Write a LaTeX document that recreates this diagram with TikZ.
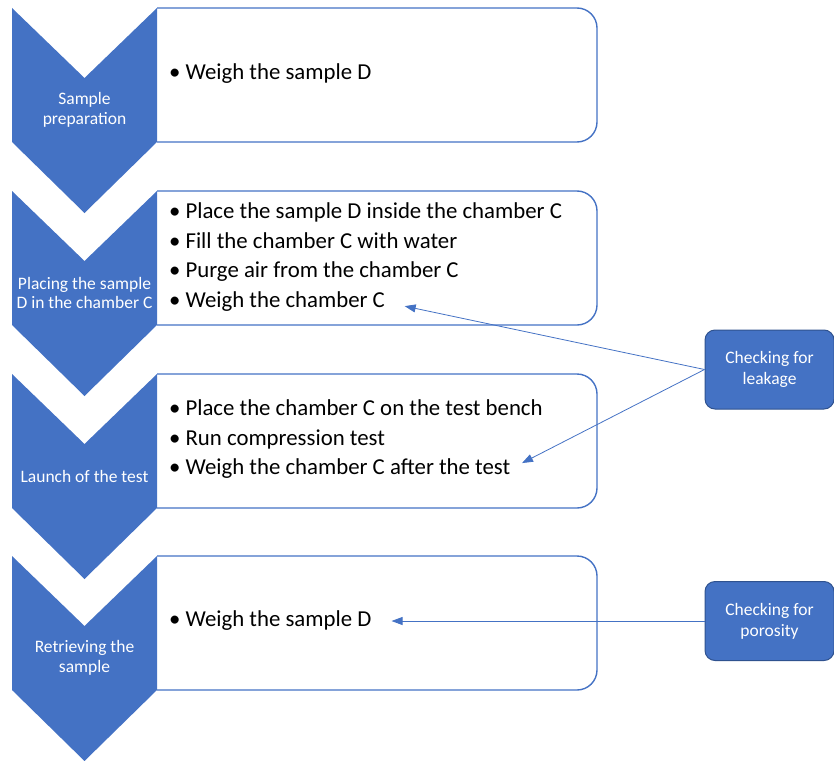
\documentclass[tikz,border=0pt]{standalone}
\usepackage{fontspec}
\setmainfont{Carlito}
\usetikzlibrary{arrows.meta}
\definecolor{chevblue}{HTML}{4472C4}
\definecolor{edgeblue}{HTML}{2F528F}

\begin{document}
\begin{tikzpicture}[x=1pt, y=-1pt,
  chevron/.style={fill=chevblue},
  phase/.style={text=white, font=\fontsize{17.5}{19.5}\selectfont, align=center},
  panel/.style={draw=chevblue, line width=1.4pt, rounded corners=20pt},
  item/.style={anchor=west, inner sep=0pt, text height=16pt, text depth=5pt, font=\fontsize{22.8}{26}\selectfont},
  check/.style={fill=chevblue, draw=edgeblue, line width=1pt, rounded corners=10pt, text=white, font=\fontsize{17.5}{21}\selectfont, align=center, minimum width=129pt, minimum height=79pt},
  link/.style={draw=chevblue, line width=0.8pt, -{Triangle[length=11pt,width=8pt]}}
]
\useasboundingbox (0,0) rectangle (834,760);

\draw[panel] (157,8) -- (597,8) -- (597,142) -- (157,142);
\draw[panel] (157,191) -- (597,191) -- (597,325) -- (157,325);
\draw[panel] (157,374) -- (597,374) -- (597,508) -- (157,508);
\draw[panel] (157,556) -- (597,556) -- (597,690) -- (157,690);

\fill[chevron] (12,8) -- (84.5,78) -- (157,8) -- (157,142) -- (84.5,213) -- (12,142) -- cycle;
\fill[chevron] (12,191) -- (84.5,261) -- (157,191) -- (157,325) -- (84.5,396) -- (12,325) -- cycle;
\fill[chevron] (12,374) -- (84.5,444) -- (157,374) -- (157,508) -- (84.5,579) -- (12,508) -- cycle;
\fill[chevron] (12,556) -- (84.5,626) -- (157,556) -- (157,690) -- (84.5,761) -- (12,690) -- cycle;

\node [phase] (p1) at (84.5,110) {Sample\\preparation};
\node [phase] (p2) at (84.5,293) {Placing the sample\\D in the chamber C};
\node [phase] (p3) at (84.5,476) {Launch of the test};
\node [phase] (p4) at (84.5,658) {Retrieving the\\sample};

\node [item] (b1) at (169,74) {\textbullet\hspace{5pt}Weigh the sample D};
\node [item] (b2a) at (169,213) {\textbullet\hspace{5pt}Place the sample D inside the chamber C};
\node [item] (b2b) at (169,243) {\textbullet\hspace{5pt}Fill the chamber C with water};
\node [item] (b2c) at (169,272) {\textbullet\hspace{5pt}Purge air from the chamber C};
\node [item] (b2d) at (169,302) {\textbullet\hspace{5pt}Weigh the chamber C};
\node [item] (b3a) at (169,410) {\textbullet\hspace{5pt}Place the chamber C on the test bench};
\node [item] (b3b) at (169,440) {\textbullet\hspace{5pt}Run compression test};
\node [item] (b3c) at (169,469) {\textbullet\hspace{5pt}Weigh the chamber C after the test};
\node [item] (b4) at (169,621) {\textbullet\hspace{5pt}Weigh the sample D};

\node [check] (leak) at (769.5,369.5) {Checking for\\leakage};
\node [check] (poro) at (769.5,621) {Checking for\\porosity};

\draw [link, shorten >=20pt] (leak.west) -- (b2d.east);
\draw [link, shorten >=13pt] (leak.west) -- (b3c.east);
\draw [link, shorten >=20pt] (poro.west) -- (b4.east);
\end{tikzpicture}
\end{document}
